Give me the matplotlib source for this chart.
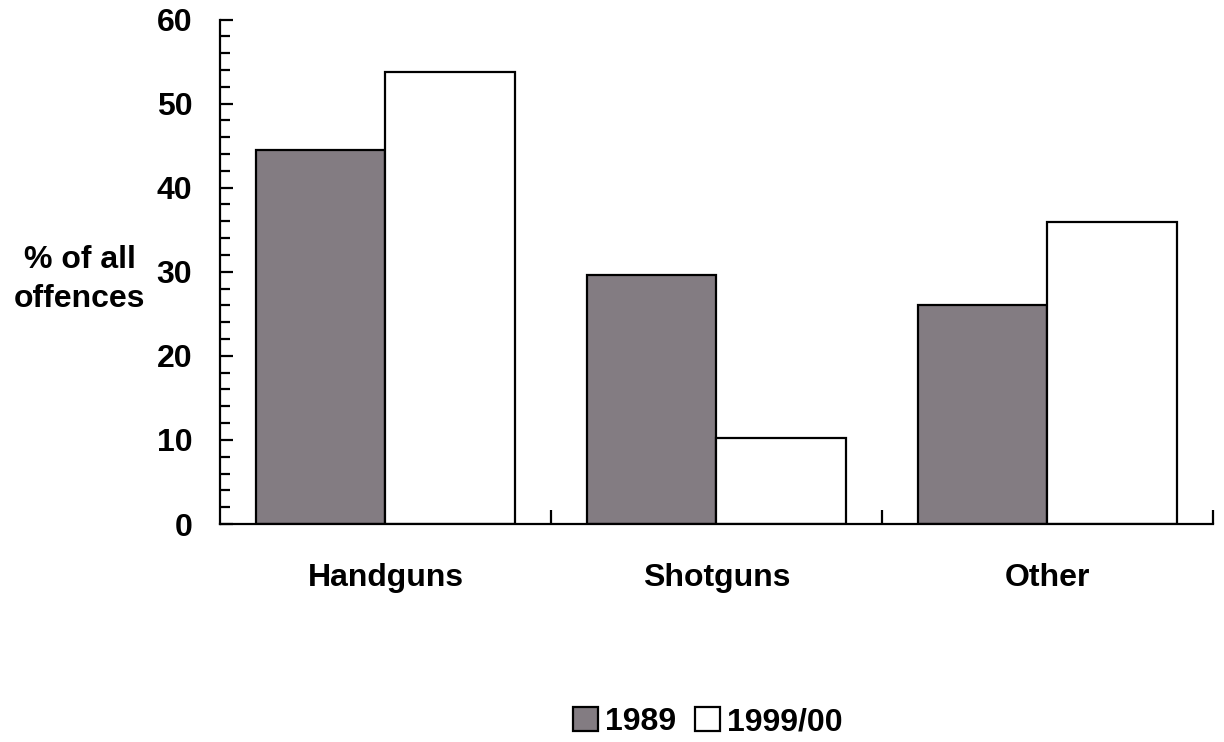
import matplotlib.pyplot as plt
import numpy as np

categories = ['Handguns', 'Shotguns', 'Other']
values_1989 = [44.5, 29.6, 26.1]
values_1999 = [53.8, 10.2, 35.9]
series_labels = ['1989', '1999/00']

plt.rcParams['font.family'] = ['Liberation Sans', 'DejaVu Sans']
plt.rcParams['font.weight'] = 'bold'

fig = plt.figure(figsize=(12.24, 7.42), dpi=100)
ax = fig.add_axes([0.1797, 0.2938, 0.8113, 0.6799])

x = np.arange(len(categories))
w = 0.39
ax.bar(x - w / 2, values_1989, w, color='#837c82', edgecolor='black', linewidth=1.6, label=series_labels[0])
ax.bar(x + w / 2, values_1999, w, color='white', edgecolor='black', linewidth=1.6, label=series_labels[1])

ax.set_xlim(-0.5, 2.5)
ax.set_ylim(0, 60)
ax.spines['top'].set_visible(False)
ax.spines['right'].set_visible(False)
ax.spines['left'].set_linewidth(1.6)
ax.spines['bottom'].set_linewidth(1.6)

ax.set_yticks(np.arange(0, 61, 10))
ax.set_yticks(np.arange(0, 61, 2), minor=True)
ax.tick_params(axis='y', which='major', direction='in', length=9, width=1.6, labelsize=23, pad=20)
ax.tick_params(axis='y', which='minor', direction='in', length=7, width=1.6)

# category separators as ticks, labels at centres
ax.set_xticks([0.5, 1.5, 2.5])
ax.set_xticklabels([])
ax.tick_params(axis='x', which='major', direction='in', length=10, width=1.6)
for i, c in enumerate(categories):
    ax.text(i, -6.4, c, ha='center', va='center', fontsize=23, fontweight='bold')

fig.text(0.065, 0.623, '% of all\noffences', ha='center', va='center', fontsize=23,
         fontweight='bold', linespacing=1.4)

fig.legend(loc='center', bbox_to_anchor=(0.578, 0.027), ncol=2, frameon=False,
           fontsize=23, handlelength=0.8, handleheight=0.8, handletextpad=0.2,
           columnspacing=0.6)

fig.savefig('out.png', dpi=100)
